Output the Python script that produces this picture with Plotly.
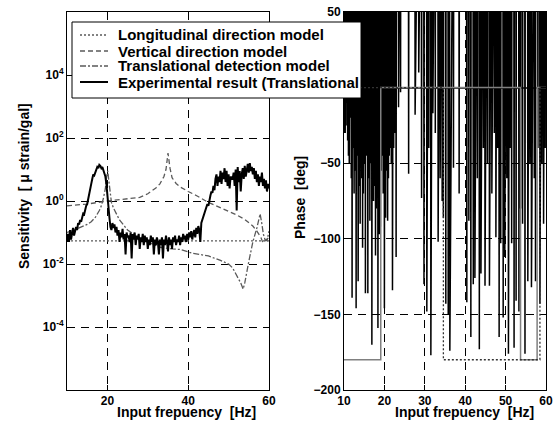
import numpy as np
import plotly.graph_objects as go

# ---------------- data: sensitivity (left panel) ----------------
# experimental sensitivity, sampled every 0.25 Hz from 10 to 60 Hz
exp_amp = [
    0.05, 0.09, 0.05, 0.12, 0.06, 0.10, 0.14, 0.08,   # 10
    0.13, 0.15, 0.12, 0.20, 0.18, 0.25, 0.22, 0.35,   # 12
    0.40, 0.38, 0.55, 0.70, 0.80, 1.1, 1.5, 2.2,      # 14
    3.5, 5.0, 7.0, 6.5, 8.0, 9.0, 12, 11,             # 16
    14, 13, 11, 12, 9, 8, 6, 3.5,                     # 18
    1.3, 0.5, 0.3, 0.15, 0.12, 0.2, 0.14, 0.18,       # 20
    0.10, 0.15, 0.08, 0.12, 0.05, 0.10, 0.07, 0.13,   # 22
    0.06, 0.09, 0.02, 0.10, 0.07, 0.08, 0.05, 0.10,   # 24
    0.015, 0.09, 0.06, 0.10, 0.04, 0.08, 0.06, 0.09,  # 26
    0.03, 0.07, 0.05, 0.09, 0.04, 0.08, 0.05, 0.07,   # 28
    0.03, 0.06, 0.04, 0.08, 0.05, 0.07, 0.02, 0.06,   # 30
    0.04, 0.07, 0.05, 0.02, 0.06, 0.04, 0.07, 0.015,  # 32
    0.06, 0.04, 0.08, 0.05, 0.025, 0.07, 0.04, 0.06,  # 34
    0.03, 0.07, 0.05, 0.08, 0.04, 0.06, 0.05, 0.08,   # 36
    0.04, 0.07, 0.05, 0.09, 0.06, 0.08, 0.05, 0.09,   # 38
    0.06, 0.10, 0.07, 0.11, 0.06, 0.09, 0.12, 0.07,   # 40
    0.14, 0.09, 0.16, 0.12, 0.05, 0.20, 0.25, 0.30,   # 42
    0.35, 0.50, 0.60, 0.80, 0.70, 1.2, 1.5, 2.0,      # 44
    1.8, 3.0, 2.2, 5.0, 7.0, 3.0, 6.0, 4.0,           # 46
    9.0, 3.5, 8.0, 5.0, 11, 4.0, 9.0, 3.0,            # 48
    7.0, 2.5, 6.0, 5.0, 5.0, 8.0, 3.0, 10,            # 50
    0.5, 12, 4.0, 9.0, 2.0, 7.0, 11, 5.0,             # 52
    13, 6.0, 10, 15, 8.0, 16, 9.0, 12,                # 54
    7.0, 11, 5.0, 9.0, 4.0, 7.0, 3.0, 6.0,            # 56
    4.0, 8.0, 3.0, 5.0, 2.5, 4.5, 2.0, 3.5,           # 58
    2.5,                                              # 60
]
exp_freq = np.linspace(10, 60, len(exp_amp))

long_freq = [10, 60]
long_amp = [0.054, 0.054]

vert_freq = [10, 15, 20, 25, 28, 30, 32, 33, 34, 34.5, 35, 35.5, 36, 37, 38,
             40, 42, 45, 48, 50, 52, 54, 56, 57, 58, 58.5, 59, 60]
vert_amp = [0.7, 0.8, 1.0, 1.15, 1.3, 1.7, 2.6, 3.5, 6.0, 10, 33, 11, 5.5, 3.6, 2.8,
            2.0, 1.5, 0.9, 0.6, 0.48, 0.36, 0.26, 0.16, 0.11, 0.07, 0.047, 0.055, 0.07]

trans_freq = [10, 11, 12, 13, 14, 15, 16, 17, 18, 18.5, 19, 19.5, 19.8, 20.1, 20.3,
              20.6, 21, 21.5, 22, 23, 25, 28, 30, 33, 36, 38, 41, 45, 48, 50, 51,
              52, 53, 53.6, 54, 55, 56, 57, 57.8, 58.2, 58.6, 59, 59.5, 60]
trans_amp = [0.1, 0.11, 0.12, 0.14, 0.16, 0.18, 0.22, 0.3, 0.5, 0.7, 1.2, 2.5, 6.0, 9.0, 5.0,
             2.1, 0.9, 0.6, 0.45, 0.25, 0.12, 0.065, 0.05, 0.034, 0.03, 0.029, 0.022, 0.018,
             0.013, 0.01, 0.0075, 0.0045, 0.0025, 0.0016, 0.0025, 0.012, 0.05, 0.14, 0.39,
             0.2, 0.09, 0.06, 0.055, 0.11]

# ---------------- data: phase (right panel) ----------------
# experimental phase: the noisy phase wraps to about +180 deg between dips;
# listed here are the frequency and depth of each dip
dip_freq = [
    10.1, 10.3, 10.5, 10.7, 10.9, 11.1, 11.3, 11.5, 11.8, 12.0,
    12.2, 12.5, 12.8, 13.0, 13.2, 13.5, 13.8, 14.0, 14.2, 14.4,
    14.6, 14.8, 15.0, 15.3, 15.5, 15.7, 15.9, 16.1, 16.4, 16.6,
    16.9, 17.1, 17.3, 17.5, 17.8, 18.0, 18.1, 18.4, 18.6, 18.8,
    19.0, 19.2, 19.4, 19.7, 20.0, 20.2, 20.3, 20.5, 20.8, 21.0,
    21.2, 21.4, 21.7, 22.0, 22.3, 22.6, 22.9, 23.5, 24.0, 26.0,
    27.6, 28.5, 29.2, 29.8, 30.5, 31.0, 31.5, 32.0, 32.6, 33.3,
    33.8, 34.3, 34.6, 35.2, 35.8, 36.2, 37.1, 38.5,
    40.4, 40.9, 41.4, 42.0, 42.4, 43.0, 43.5, 43.9,
    44.5, 44.9, 45.5, 46.0, 46.6, 47.2, 47.6, 48.0, 48.4, 48.8,
    49.4, 49.8, 50.3, 50.7, 51.1, 51.5, 52.1, 52.6, 53.3, 53.7,
    54.2, 54.8, 55.5, 56.0, 56.4, 57.1, 57.4, 58.0, 58.5, 59.0,
    59.4, 59.8,
]
dip_deg = [
    -30, -30, -25, -10, -35, -45, -50, -20, -60, -139,
    -40, -70, -55, -146, -45, -128, -65, -90, -35, -60,
    -106, -70, -50, -136, -45, -40, -136, -60, -88, -50,
    -170, -40, -75, -65, -111, -80, -53, -159, -60, -97,
    -92, -55, -45, -70, -146, -30, -86, -55, -88, -60,
    -45, -40, -50, -134, -40, -30, -112, -13, -3, -57,
    -18, 10, -73, -130, -148, -40, -177, -17, -30, -102,
    -60, -75, -86, -143, -150, -174, -53, -70,
    -142, -88, -165, -130, -126, -60, -173, -123,
    -40, -131, -50, -131, -70, -30, -99, -40, -165, -103,
    -152, -112, -60, -176, -40, -103, -172, -141, -148, -80,
    -90, -176, -128, -50, -132, -60, -128, -40, -143, -50,
    -90, -40,
]
wrap_deg = 180          # value the phase wraps to between dips
dip_halfwidth = 0.08    # Hz, half width of each dip

long_phase_freq = [10, 34.6, 34.6, 58.5, 58.5, 60]
long_phase_deg = [0, 0, -180, -180, 0, 0]
trans_phase_freq = [10, 19.1, 19.1, 53.7, 53.7, 57.8, 57.8, 60]
trans_phase_deg = [-180, -180, 0, 0, -180, -180, 0, 0]

legend_names = ["Longitudinal direction model", "Vertical direction model",
                "Translational detection model", "Experimental result (Translational"]

y_tickvals = [1e-4, 1e-2, 1, 1e2, 1e4]
y_ticktext = ["10<sup>-4</sup>", "10<sup>-2</sup>", "10<sup>0</sup>",
              "10<sup>2</sup>", "10<sup>4</sup>"]

# build the wrapped phase line from the dips
phase_x, phase_y = [], []
for f, d in zip(dip_freq, dip_deg):
    phase_x += [f - dip_halfwidth, f, f + dip_halfwidth]
    phase_y += [wrap_deg, d, wrap_deg]

# ---------------- figure ----------------
W, H = 553, 427
FONT = "Liberation Sans, Arial, Helvetica, sans-serif"
GRAY = "#5a5a5a"

styles = [
    dict(color=GRAY, width=1.3, dash="2px,2px"),
    dict(color=GRAY, width=1.3, dash="5px,3px"),
    dict(color=GRAY, width=1.3, dash="6px,2px,2px,2px"),
    dict(color="black", width=2),
]

fig = go.Figure()
for fx, fy, name, st in zip([long_freq, vert_freq, trans_freq, exp_freq],
                            [long_amp, vert_amp, trans_amp, exp_amp],
                            legend_names, styles):
    fig.add_trace(go.Scatter(x=fx, y=fy, mode="lines", name=name, line=st,
                             showlegend=False, xaxis="x", yaxis="y"))

# right panel
fig.add_trace(go.Scatter(x=phase_x, y=phase_y, mode="lines", showlegend=False,
                         line=dict(color="black", width=1.5),
                         xaxis="x2", yaxis="y2"))
fig.add_trace(go.Scatter(x=trans_phase_freq, y=trans_phase_deg, mode="lines", showlegend=False,
                         line=dict(color="#808080", width=1.5),
                         xaxis="x2", yaxis="y2"))
fig.add_trace(go.Scatter(x=long_phase_freq, y=long_phase_deg, mode="lines", showlegend=False,
                         line=dict(color="#333333", width=1.3, dash="2px,2px"),
                         xaxis="x2", yaxis="y2"))

ydom = [1 - 390 / H, 1 - 12 / H]
axis_common = dict(
    showline=True, linecolor="black", linewidth=1, mirror="ticks",
    ticks="inside", ticklen=5, tickcolor="black", tickwidth=1,
    showgrid=True, gridcolor="black", gridwidth=1, griddash="8px,6px",
    zeroline=False, automargin=False,
    tickfont=dict(family=FONT, size=12, color="black", weight="bold"),
)

fig.update_layout(
    width=W, height=H,
    margin=dict(l=0, r=0, t=0, b=0, autoexpand=False),
    paper_bgcolor="white", plot_bgcolor="white",
    showlegend=False,
    xaxis=dict(domain=[67 / W, 269 / W], range=[10, 60], tickvals=[20, 40, 60],
               anchor="y", **axis_common),
    yaxis=dict(domain=ydom, type="log", range=[-6, 6], tickvals=y_tickvals,
               ticktext=y_ticktext, anchor="x", **axis_common),
    xaxis2=dict(domain=[344 / W, 546 / W], range=[10, 60],
                tickvals=[10, 20, 30, 40, 50, 60], anchor="y2", **axis_common),
    yaxis2=dict(domain=ydom, range=[-200, 50],
                tickvals=[-200, -150, -100, -50, 0, 50], anchor="x2", **axis_common),
    font=dict(family=FONT, color="black"),
)
fig.update_layout(yaxis2_zeroline=True, yaxis2_zerolinecolor="#404040",
                  yaxis2_zerolinewidth=1.5)

# ---- legend box drawn on top of both panels ----
def px(x):
    return x / W

def py(y):
    return 1 - y / H

fig.add_shape(type="rect", xref="paper", yref="paper",
              x0=px(72), x1=px(361), y0=py(98), y1=py(22),
              fillcolor="white", line=dict(color="black", width=1), layer="above")
row_y = [35, 51, 66, 82]
for name, st, ry in zip(legend_names, styles, row_y):
    fig.add_shape(type="line", xref="paper", yref="paper",
                  x0=px(80), x1=px(108), y0=py(ry), y1=py(ry),
                  line=st, layer="above")
    fig.add_annotation(text=name, x=px(116), y=py(ry), xref="paper", yref="paper",
                       showarrow=False, xanchor="left", yanchor="middle",
                       font=dict(family=FONT, size=15, color="black", weight="bold"))

title_font = dict(family=FONT, size=14, color="black", weight="bold")
fig.add_annotation(text="Input frepuency  [Hz]", x=px(186), y=py(412),
                   xref="paper", yref="paper", showarrow=False, font=title_font,
                   xanchor="center", yanchor="middle")
fig.add_annotation(text="Input frepuency  [Hz]", x=px(464), y=py(412),
                   xref="paper", yref="paper", showarrow=False, font=title_font,
                   xanchor="center", yanchor="middle")
fig.add_annotation(text="Sensitivity  [ \u03bc strain/gal]", x=px(24), y=py(186),
                   xref="paper", yref="paper", showarrow=False, font=title_font,
                   textangle=-90, xanchor="center", yanchor="middle")
fig.add_annotation(text="Phase  [deg]", x=px(300), y=py(198),
                   xref="paper", yref="paper", showarrow=False, font=title_font,
                   textangle=-90, xanchor="center", yanchor="middle")

fig.write_html("out.html")
